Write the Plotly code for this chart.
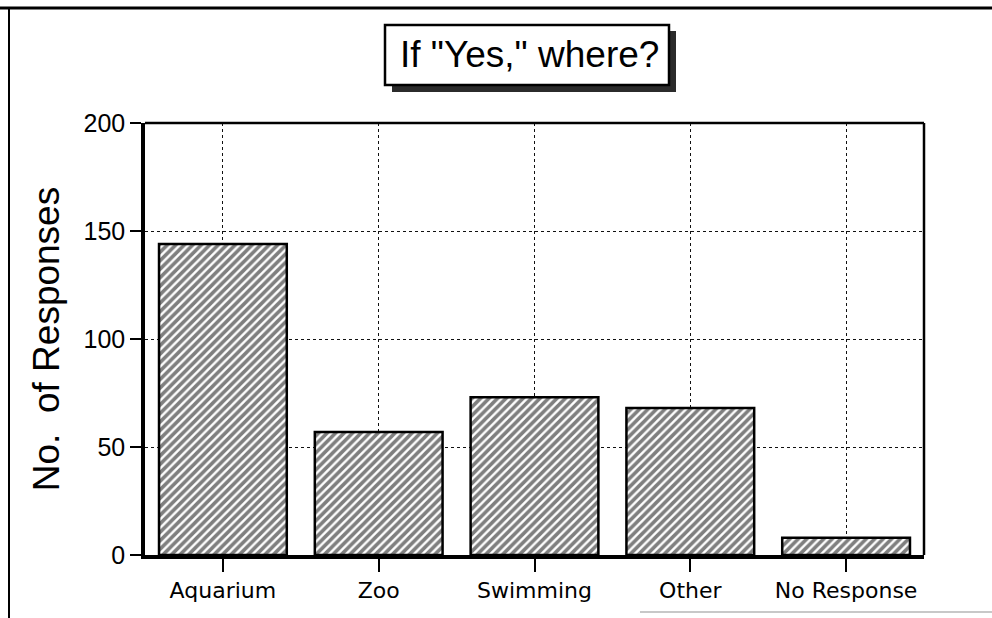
import plotly.graph_objects as go

# Survey answers: where respondents had seen the animals
categories = ["Aquarium", "Zoo", "Swimming", "Other", "No Response"]
responses = [144, 57, 73, 68, 8]
y_ticks = [0, 50, 100, 150, 200]

W, H = 992, 618
L, R, T, B = 145, 68, 123, 63
PW, PH = W - L - R, H - T - B


def px(x):
    """pixel x -> paper x"""
    return (x - L) / PW


def py(y):
    """pixel y -> paper y"""
    return (H - B - y) / PH


fig = go.Figure()
fig.add_trace(go.Bar(
    x=categories,
    y=responses,
    marker=dict(
        color="white",
        line=dict(color="black", width=2.5),
        pattern=dict(shape="/", fgcolor="black", bgcolor="white",
                     size=6, solidity=0.6),
    ),
    showlegend=False,
))

shapes = [
    # plot frame: top and right edges
    dict(type="line", xref="paper", yref="paper", x0=0, x1=1, y0=1, y1=1,
         line=dict(color="black", width=2.5)),
    dict(type="line", xref="paper", yref="paper", x0=1, x1=1, y0=0, y1=1,
         line=dict(color="black", width=2.5)),
    # outer page frame
    dict(type="line", xref="paper", yref="paper", x0=px(0), x1=px(W),
         y0=py(8), y1=py(8), line=dict(color="black", width=3)),
    dict(type="line", xref="paper", yref="paper", x0=px(9), x1=px(9),
         y0=py(8), y1=py(H), line=dict(color="black", width=2)),
    dict(type="line", xref="paper", yref="paper", x0=px(640), x1=px(W),
         y0=py(612), y1=py(612), line=dict(color="#c8c8c8", width=2)),
    # title box shadow and box
    dict(type="rect", xref="paper", yref="paper", x0=px(392), x1=px(676),
         y0=py(92), y1=py(31), fillcolor="#2b2b2b", line=dict(width=0)),
    dict(type="rect", xref="paper", yref="paper", x0=px(385), x1=px(669),
         y0=py(85), y1=py(25), fillcolor="white",
         line=dict(color="black", width=2.5)),
]

fig.update_layout(
    width=W, height=H,
    margin=dict(l=L, r=R, t=T, b=B, autoexpand=False),
    paper_bgcolor="white",
    plot_bgcolor="white",
    bargap=0.18,
    shapes=shapes,
    annotations=[dict(
        text='If "Yes," where?', xref="paper", yref="paper",
        x=px(529), y=py(55), xanchor="center", yanchor="middle",
        showarrow=False,
        font=dict(family="Liberation Sans", size=37, color="black"),
    )],
    font=dict(family="Liberation Sans", color="black"),
)

fig.update_xaxes(
    range=[-0.5, 4.5],
    showline=True, linecolor="black", linewidth=3.5,
    ticks="outside", ticklen=13, tickwidth=2, tickcolor="black",
    showgrid=True, gridcolor="#111111", gridwidth=1.3, griddash="dot",
    tickfont=dict(family="DejaVu Sans", size=22, color="black"),
    zeroline=False,
)
fig.update_yaxes(
    range=[0, 200],
    tickvals=y_ticks,
    showline=True, linecolor="black", linewidth=3.5,
    ticks="outside", ticklen=11, tickwidth=2, tickcolor="black",
    showgrid=True, gridcolor="#111111", gridwidth=1.3, griddash="dot",
    tickfont=dict(family="Liberation Sans", size=25, color="black"),
    title=dict(text="No.  of Responses",
               font=dict(family="Liberation Sans", size=37, color="black"),
               standoff=14),
    zeroline=False,
)

fig.write_html("out.html")
